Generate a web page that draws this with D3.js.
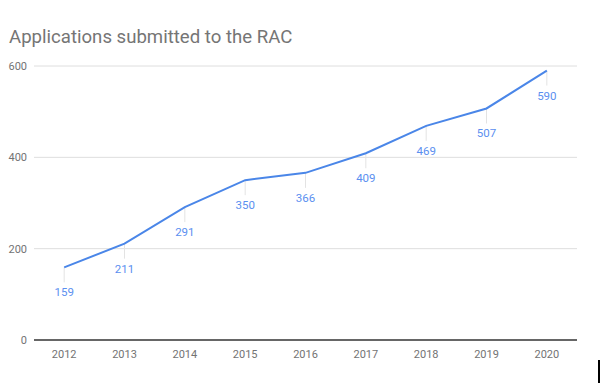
<!DOCTYPE html>
<html>
<head>
<meta charset="utf-8">
<script src="https://cdn.jsdelivr.net/npm/d3@7"></script>
<style>
  body { margin: 0; background: #fff; }
  svg { font-family: Roboto, "Noto Sans", sans-serif; }
</style>
</head>
<body>
<svg width="600" height="388"></svg>
<script>
var years = ["2012", "2013", "2014", "2015", "2016", "2017", "2018", "2019", "2020"];
var applications = [159, 211, 291, 350, 366, 409, 469, 507, 590];
var yTicks = [0, 200, 400, 600];

var svg = d3.select('svg');

var plotLeft = 34, plotRight = 577, plotTop = 66, plotBottom = 340;

var scaleX = d3.scalePoint().domain(years).range([plotLeft, plotRight]).padding(0.5);
var scaleY = d3.scaleLinear().domain([0, 600]).range([plotBottom, plotTop]);

var data = years.map(function(y, i) { return {year: y, value: applications[i]}; });

svg.append('text')
    .text('Applications submitted to the RAC')
    .attr('x', 9)
    .attr('y', 43)
    .attr('font-size', 18.6)
    .attr('fill', '#757575');

// gridlines
svg.selectAll('.grid')
    .data(yTicks.filter(function(d) { return d > 0; }))
    .enter()
    .append('line')
    .attr('x1', plotLeft)
    .attr('x2', plotRight)
    .attr('y1', function(d) { return scaleY(d); })
    .attr('y2', function(d) { return scaleY(d); })
    .attr('stroke', '#dedede')
    .attr('stroke-width', 1);

// y labels
svg.selectAll('.ylab')
    .data(yTicks)
    .enter()
    .append('text')
    .text(function(d) { return d; })
    .attr('x', 27)
    .attr('y', function(d) { return scaleY(d) + 4; })
    .attr('text-anchor', 'end')
    .attr('font-size', 11)
    .attr('fill', '#737373');

// baseline
svg.append('line')
    .attr('x1', plotLeft)
    .attr('x2', plotRight)
    .attr('y1', scaleY(0))
    .attr('y2', scaleY(0))
    .attr('stroke', '#333')
    .attr('stroke-width', 1.5);

// x labels
svg.selectAll('.xlab')
    .data(years)
    .enter()
    .append('text')
    .text(function(d) { return d; })
    .attr('x', function(d) { return scaleX(d); })
    .attr('y', 358)
    .attr('text-anchor', 'middle')
    .attr('font-size', 11)
    .attr('fill', '#737373');

// leader lines
svg.selectAll('.leader')
    .data(data)
    .enter()
    .append('line')
    .attr('x1', function(d) { return scaleX(d.year); })
    .attr('x2', function(d) { return scaleX(d.year); })
    .attr('y1', function(d) { return scaleY(d.value); })
    .attr('y2', function(d) { return scaleY(d.value) + 15; })
    .attr('stroke', '#e3e3e3')
    .attr('stroke-width', 1);

var line = d3.line()
    .x(function(d) { return scaleX(d.year); })
    .y(function(d) { return scaleY(d.value); });

svg.append('path')
    .datum(data)
    .attr('d', line)
    .attr('fill', 'none')
    .attr('stroke', '#4a86e8')
    .attr('stroke-width', 2);

// value labels
svg.selectAll('.vlab')
    .data(data)
    .enter()
    .append('text')
    .text(function(d) { return d.value; })
    .attr('x', function(d) { return scaleX(d.year); })
    .attr('y', function(d) { return scaleY(d.value) + 29; })
    .attr('text-anchor', 'middle')
    .attr('font-size', 11.5)
    .attr('fill', '#5b8ff0');

// screenshot edge artefact
svg.append('rect')
    .attr('x', 598)
    .attr('y', 360)
    .attr('width', 2)
    .attr('height', 23)
    .attr('fill', '#000');
</script>
</body>
</html>
